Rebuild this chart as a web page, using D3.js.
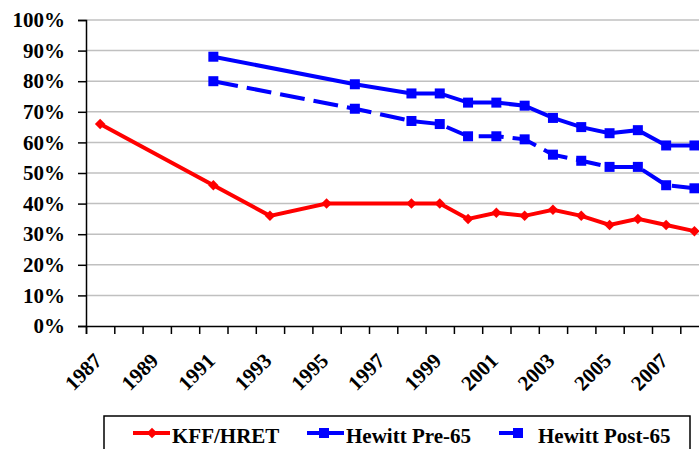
<!DOCTYPE html>
<html>
<head>
<meta charset="utf-8">
<script src="https://cdn.jsdelivr.net/npm/d3@7"></script>
<style>
  body { margin: 0; background: #fff; }
  svg text { font-family: "Liberation Serif", "DejaVu Serif", "Times New Roman", serif !important; font-weight: bold; }
</style>
</head>
<body>
<div id="chart"></div>
<script>
// data
const kffYears = [1987, 1991, 1993, 1995, 1998, 1999, 2000, 2001, 2002, 2003, 2004, 2005, 2006, 2007, 2008]
const kffValues = [66, 46, 36, 40, 40, 40, 35, 37, 36, 38, 36, 33, 35, 33, 31]
const hewittYears = [1991, 1996, 1998, 1999, 2000, 2001, 2002, 2003, 2004, 2005, 2006, 2007, 2008]
const pre65Values = [88, 79, 76, 76, 73, 73, 72, 68, 65, 63, 64, 59, 59]
const post65Values = [80, 71, 67, 66, 62, 62, 61, 56, 54, 52, 52, 46, 45]
const yearLabels = [1987, 1989, 1991, 1993, 1995, 1997, 1999, 2001, 2003, 2005, 2007]
const yTicks = [0, 10, 20, 30, 40, 50, 60, 70, 80, 90, 100]
const seriesNames = ["KFF/HRET", "Hewitt Pre-65", "Hewitt Post-65"]

const svgWidth = 699
const svgHeight = 449
const serif = "'Liberation Serif', 'DejaVu Serif', 'Times New Roman', serif"

let svg = d3.select("#chart")
  .append("svg")
  .attr("width", svgWidth)
  .attr("height", svgHeight)

// category axis: each year is one slot, ticks sit between slots
let x = d3.scaleLinear()
  .domain([1986.5, 2008.5])
  .range([86, 708.6])

let y = d3.scaleLinear()
  .domain([0, 100])
  .range([326, 20])

// gridlines
svg.append("g")
  .selectAll("line")
  .data(yTicks.filter(d => d > 0))
  .enter()
  .append("line")
  .attr("x1", 86)
  .attr("x2", 708)
  .attr("y1", d => y(d))
  .attr("y2", d => y(d))
  .attr("stroke", "#c0c0c0")
  .attr("stroke-width", 1.5)

// y axis
let yAxis = svg.append("g")
  .attr("transform", "translate(86,0)")
  .call(d3.axisLeft(y).tickValues(yTicks).tickSize(8).tickPadding(13).tickFormat(d => d + "%"))
  .attr("font-family", serif)
yAxis.select(".domain").attr("stroke", "#000").attr("stroke-width", 1.5)
yAxis.selectAll(".tick line").attr("stroke", "#000").attr("stroke-width", 1.5)
yAxis.selectAll("text")
  .attr("font-size", "21px")
  .attr("fill", "#000")

// x axis ticks at slot boundaries
let boundaries = d3.range(1986.5, 2009, 1)
let xAxis = svg.append("g")
  .attr("transform", "translate(0,326)")
  .call(d3.axisBottom(x).tickValues(boundaries).tickSize(8).tickFormat(""))
xAxis.select(".domain").attr("stroke", "#000").attr("stroke-width", 1.5)
xAxis.selectAll(".tick line").attr("stroke", "#000").attr("stroke-width", 1.5)

// slanted year labels
svg.append("g")
  .selectAll("text")
  .data(yearLabels)
  .enter()
  .append("text")
  .attr("transform", d => `translate(${x(d) + 3}, 362) rotate(-45)`)
  .attr("text-anchor", "end")
  .attr("font-size", "21px")
  .attr("fill", "#000")
  .text(d => d)

let line = d3.line()
  .x(d => x(d[0]))
  .y(d => y(d[1]))

let kff = kffYears.map((d, i) => [d, kffValues[i]])
let pre65 = hewittYears.map((d, i) => [d, pre65Values[i]])
let post65 = hewittYears.map((d, i) => [d, post65Values[i]])

let diamond = d3.symbol().type(d3.symbolDiamond2).size(70)

// Hewitt Post-65 (dashed)
svg.append("path")
  .datum(post65)
  .attr("d", line)
  .attr("fill", "none")
  .attr("stroke", "#0000ff")
  .attr("stroke-width", 4)
  .attr("stroke-dasharray", "25,9")
svg.append("g")
  .selectAll("rect")
  .data(post65)
  .enter()
  .append("rect")
  .attr("x", d => x(d[0]) - 5)
  .attr("y", d => y(d[1]) - 5)
  .attr("width", 10)
  .attr("height", 10)
  .attr("fill", "#0000ff")

// Hewitt Pre-65
svg.append("path")
  .datum(pre65)
  .attr("d", line)
  .attr("fill", "none")
  .attr("stroke", "#0000ff")
  .attr("stroke-width", 4)
svg.append("g")
  .selectAll("rect")
  .data(pre65)
  .enter()
  .append("rect")
  .attr("x", d => x(d[0]) - 5)
  .attr("y", d => y(d[1]) - 5)
  .attr("width", 10)
  .attr("height", 10)
  .attr("fill", "#0000ff")

// KFF/HRET
svg.append("path")
  .datum(kff)
  .attr("d", line)
  .attr("fill", "none")
  .attr("stroke", "#ff0000")
  .attr("stroke-width", 4)
svg.append("g")
  .selectAll("path")
  .data(kff)
  .enter()
  .append("path")
  .attr("d", diamond)
  .attr("transform", d => `translate(${x(d[0])},${y(d[1])})`)
  .attr("fill", "#ff0000")

// legend
let legend = svg.append("g")
legend.append("rect")
  .attr("x", 104)
  .attr("y", 416)
  .attr("width", 586)
  .attr("height", 60)
  .attr("fill", "#fff")
  .attr("stroke", "#000")
  .attr("stroke-width", 1.5)

let ly = 433
// KFF key
legend.append("line")
  .attr("x1", 133).attr("x2", 170).attr("y1", ly).attr("y2", ly)
  .attr("stroke", "#ff0000").attr("stroke-width", 4)
legend.append("path")
  .attr("d", diamond)
  .attr("transform", `translate(152,${ly})`)
  .attr("fill", "#ff0000")
// Pre-65 key
legend.append("line")
  .attr("x1", 307).attr("x2", 344).attr("y1", ly).attr("y2", ly)
  .attr("stroke", "#0000ff").attr("stroke-width", 4)
legend.append("rect")
  .attr("x", 319).attr("y", ly - 5).attr("width", 10).attr("height", 10)
  .attr("fill", "#0000ff")
// Post-65 key
legend.append("line")
  .attr("x1", 499).attr("x2", 522).attr("y1", ly).attr("y2", ly)
  .attr("stroke", "#0000ff").attr("stroke-width", 4)
legend.append("rect")
  .attr("x", 513).attr("y", ly - 5).attr("width", 10).attr("height", 10)
  .attr("fill", "#0000ff")

legend.selectAll("text.key")
  .data(seriesNames)
  .enter()
  .append("text")
  .classed("key", true)
  .attr("x", (d, i) => [172, 346, 538][i])
  .attr("y", 442.5)
  .attr("font-size", "21px")
  .attr("fill", "#000")
  .text(d => d)
</script>
</body>
</html>
